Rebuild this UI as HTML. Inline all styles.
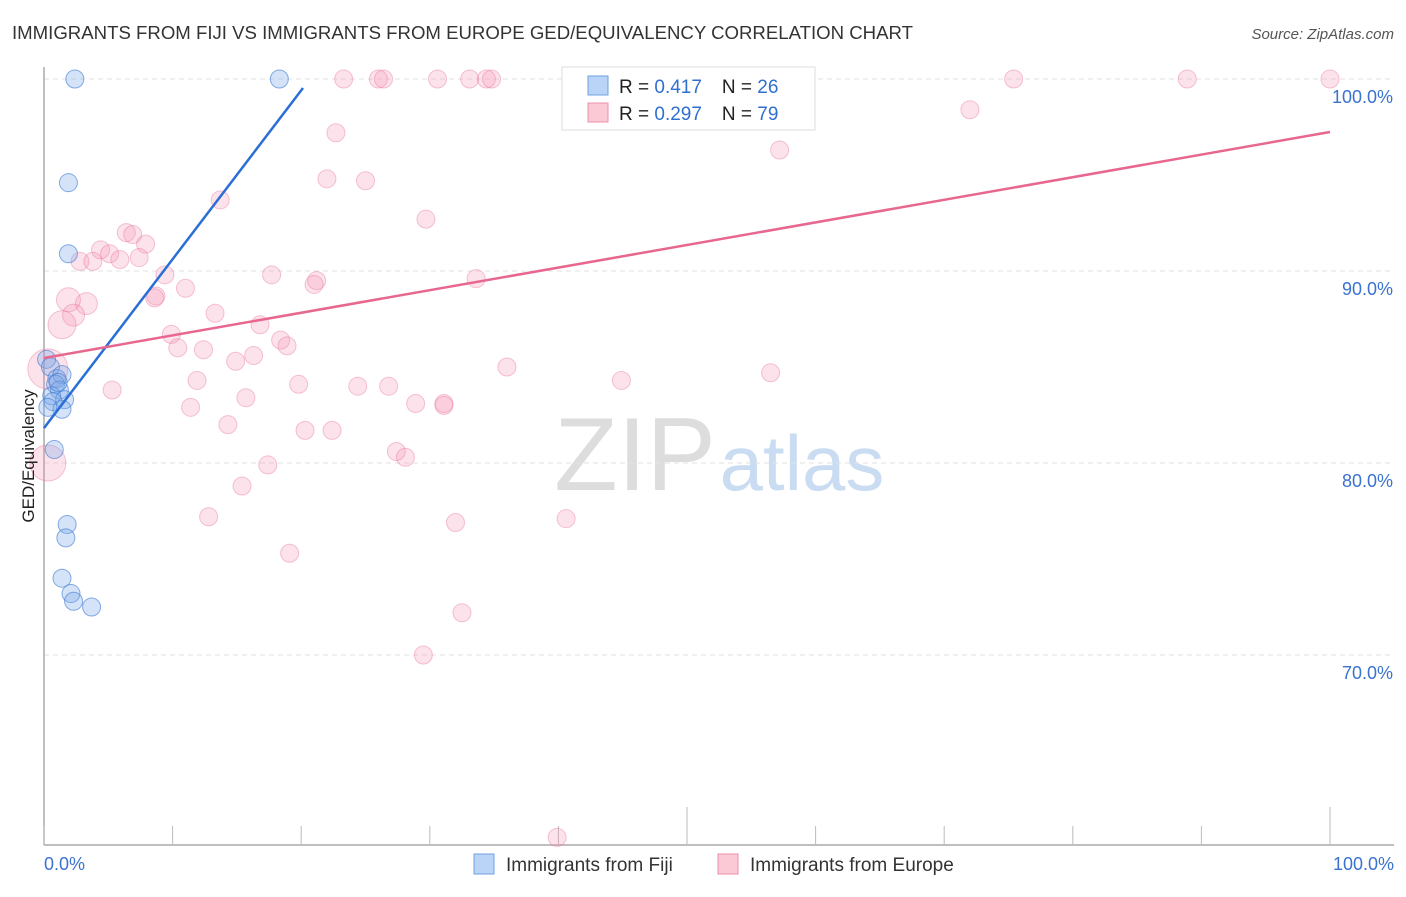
<!DOCTYPE html>
<html><head><meta charset="utf-8">
<style>
body{margin:0;background:#fff;font-family:"Liberation Sans",sans-serif;}
svg text{font-family:"Liberation Sans",sans-serif;}
</style></head>
<body>
<svg id="chart" width="1406" height="892" xmlns="http://www.w3.org/2000/svg">
<text x="12" y="39" font-size="18" fill="#333" textLength="901" lengthAdjust="spacingAndGlyphs">IMMIGRANTS FROM FIJI VS IMMIGRANTS FROM EUROPE GED/EQUIVALENCY CORRELATION CHART</text>
<text x="1394" y="39" font-size="15" fill="#555" text-anchor="end" font-style="italic">Source: ZipAtlas.com</text>
<g>
<text x="635" y="490" font-size="104" fill="#ddd" text-anchor="middle" font-family="Liberation Serif,serif">ZIP</text>
<text x="802" y="490" font-size="78" fill="#c9dcf2" text-anchor="middle">atlas</text>
</g>
<g id="grid"></g>
<g id="axes"></g>
<g id="points"></g>
<g id="trends"></g>
<text transform="translate(34,456) rotate(-90)" font-size="17" fill="#222" text-anchor="middle">GED/Equivalency</text>
<g>
<rect x="562" y="67" width="253" height="63" fill="#fff" stroke="#ddd"/>
<rect x="588" y="76" width="20" height="19" fill="#b9d4f6" stroke="#6fa0e0"/>
<rect x="588" y="103" width="20" height="19" fill="#fbc8d6" stroke="#ec8fab"/>
<text x="619" y="93" font-size="19" fill="#222">R = <tspan fill="#2f6fd0">0.417</tspan><tspan dx="20">N = </tspan><tspan fill="#2f6fd0">26</tspan></text>
<text x="619" y="120" font-size="19" fill="#222">R = <tspan fill="#2f6fd0">0.297</tspan><tspan dx="20">N = </tspan><tspan fill="#2f6fd0">79</tspan></text>
</g>
<g>
<rect x="474" y="854" width="20" height="20" fill="#b9d4f6" stroke="#6fa0e0"/>
<text x="506" y="871" font-size="19" fill="#333">Immigrants from Fiji</text>
<rect x="718" y="854" width="20" height="20" fill="#fbc8d6" stroke="#ec8fab"/>
<text x="750" y="871" font-size="19" fill="#333">Immigrants from Europe</text>
</g>
</svg>
<script>
const yTicks=[100,90,80,70];
const yTickLabels=["100.0%","90.0%","80.0%","70.0%"];
const xEndLabels=["0.0%","100.0%"];
const fijiX=[2.4,18.3,1.9,1.9,0.2,0.5,1.0,1.4,0.9,1.2,0.6,1.6,0.7,1.4,0.8,1.8,1.7,1.4,2.1,2.3,3.7,0.3,1.1];
const fijiY=[100,100,94.6,90.9,85.4,85.0,84.4,84.6,84.1,83.8,83.5,83.3,83.2,82.8,80.7,76.8,76.1,74.0,73.2,72.8,72.5,82.9,84.2];
const euroX=[23.3,26.0,26.4,30.6,33.1,34.4,34.8,75.4,88.9,100,72.0,57.2,22.7,22.0,25.0,29.7,13.7,6.4,6.9,7.9,4.4,5.1,5.9,2.8,3.8,7.4,9.4,17.7,21.2,21.0,33.6,11.0,8.7,8.6,3.3,1.9,2.3,1.4,13.3,16.8,9.9,10.4,12.4,18.4,18.9,14.9,16.3,36.0,56.5,0.3,5.3,11.9,19.8,24.4,26.8,44.9,15.7,11.4,28.9,31.1,31.1,14.3,20.3,22.4,27.4,28.1,17.4,15.4,0.3,12.8,32.0,40.6,19.1,32.5,29.5,39.9];
const euroY=[100,100,100,100,100,100,100,100,100,100,98.4,96.3,97.2,94.8,94.7,92.7,93.7,92.0,91.9,91.4,91.1,90.9,90.6,90.5,90.5,90.7,89.8,89.8,89.5,89.3,89.6,89.1,88.7,88.6,88.3,88.5,87.7,87.2,87.8,87.2,86.7,86.0,85.9,86.4,86.1,85.3,85.6,85.0,84.7,84.9,83.8,84.3,84.1,84.0,84.0,84.3,83.4,82.9,83.1,83.1,83.0,82.0,81.7,81.7,80.6,80.3,79.9,78.8,80.0,77.2,76.9,77.1,75.3,72.2,70.0,60.5];
const euroR=[9,9,9,9,9,9,9,9,9,9,9,9,9,9,9,9,9,9,9,9,9,9,9,9,9,9,9,9,9,9,9,9,9,9,11,12,11,14,9,9,9,9,9,9,9,9,9,9,9,20,9,9,9,9,9,9,9,9,9,9,9,9,9,9,9,9,9,9,18,9,9,9,9,9,9,9];
const fijiTrend=[[0,81.82],[20.14,99.53]];
const euroTrend=[[0,85.47],[100,97.24]];
const NS="http://www.w3.org/2000/svg";
const X=v=>44+v*12.86, Y=v=>79+(100-v)*19.2;
function mk(t,a,p){const e=document.createElementNS(NS,t);for(const k in a)e.setAttribute(k,a[k]);p.appendChild(e);return e;}
const grid=document.getElementById('grid'),axes=document.getElementById('axes'),pts=document.getElementById('points'),tr=document.getElementById('trends');
yTicks.forEach((t,i)=>{
 const l=mk('line',{x1:44,x2:1394,y1:Y(t),y2:Y(t),stroke:'#e2e2e2','stroke-dasharray':'5,4'},grid);
 
 
 const tx=mk('text',{x:1393,y:Y(t)+24,'font-size':18,fill:'#3a72d0','text-anchor':'end'},axes);
 tx.textContent=yTickLabels[i];
 
 
});
const ya=mk('line',{x1:44,x2:44,y1:67,y2:845,stroke:'#aaa','stroke-width':1.5},axes);


const xa=mk('line',{x1:44,x2:1394,y1:845,y2:845,stroke:'#aaa','stroke-width':1.5},axes);


for(let i=0;i<=10;i++){
 const tall=(i==5||i==10);
 const t=mk('line',{x1:X(i*10),x2:X(i*10),y1:tall?807:826,y2:845,stroke:'#bbb'},axes);
 
 
}
[[0,'start'],[100,'end']].forEach((d,i)=>{
 const t=mk('text',{x:i?1394:44,y:870,'font-size':18,fill:'#3a72d0','text-anchor':d[1]},axes);
 t.textContent=xEndLabels[i];
 
 
});
euroX.forEach((x,i)=>{
 const c=mk('circle',{cx:X(x),cy:Y(euroY[i]),r:euroR[i],fill:'rgba(244,143,177,0.25)',stroke:'rgba(233,110,150,0.4)'},pts);
 
 
});
fijiX.forEach((x,i)=>{
 const c=mk('circle',{cx:X(x),cy:Y(fijiY[i]),r:9,fill:'rgba(120,168,232,0.32)',stroke:'rgba(60,120,210,0.6)'},pts);
 
 
});
const l1=mk('line',{x1:X(fijiTrend[0][0]),y1:Y(fijiTrend[0][1]),x2:X(fijiTrend[1][0]),y2:Y(fijiTrend[1][1]),stroke:'#2a6fd6','stroke-width':2.5},tr);


const l2=mk('line',{x1:X(euroTrend[0][0]),y1:Y(euroTrend[0][1]),x2:X(euroTrend[1][0]),y2:Y(euroTrend[1][1]),stroke:'#e8678f','stroke-width':2.5},tr);


</script>
</body></html>
